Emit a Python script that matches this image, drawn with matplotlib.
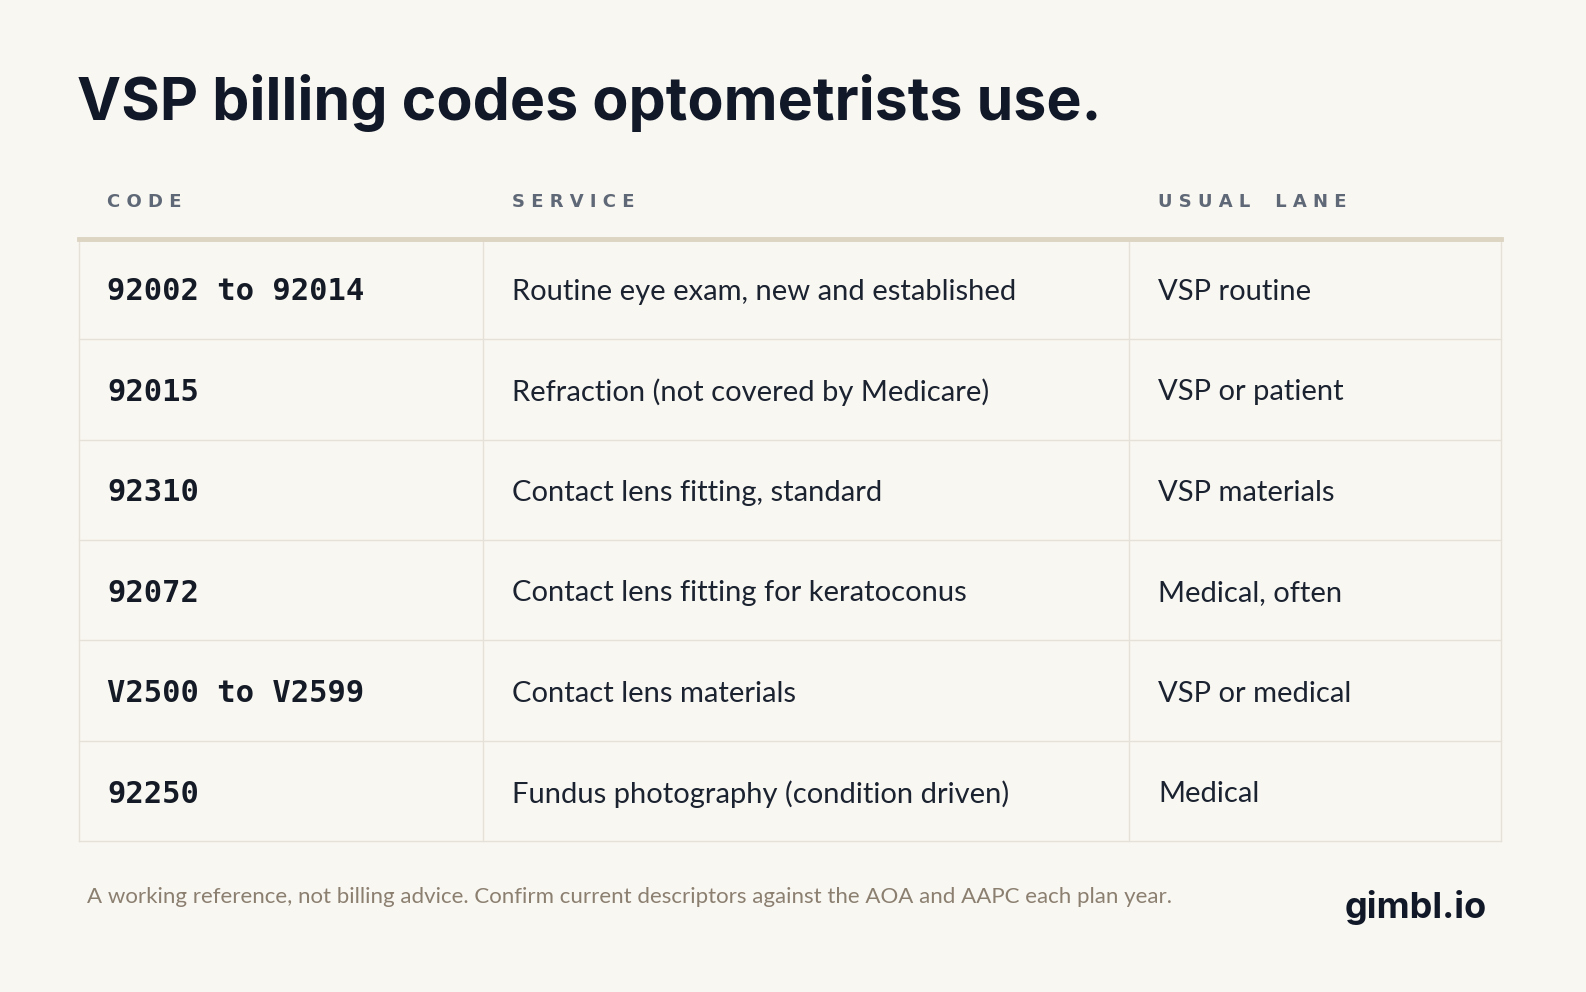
import matplotlib
matplotlib.use("Agg")
import matplotlib.pyplot as plt

title = "VSP billing codes optometrists use."
headers = ["CODE", "SERVICE", "USUAL LANE"]
codes = ["92002 to 92014", "92015", "92310", "92072", "V2500 to V2599", "92250"]
services = ["Routine eye exam, new and established", "Refraction (not covered by Medicare)",
            "Contact lens fitting, standard", "Contact lens fitting for keratoconus",
            "Contact lens materials", "Fundus photography (condition driven)"]
lanes = ["VSP routine", "VSP or patient", "VSP materials", "Medical, often",
         "VSP or medical", "Medical"]
footer = "A working reference, not billing advice. Confirm current descriptors against the AOA and AAPC each plan year."
brand = "gimbl.io"

W, H = 1586, 992
s = 1586 / 1568
bg = "#f9f7f2"
fig = plt.figure(figsize=(W/100, H/100), dpi=100, facecolor=bg)
ax = fig.add_axes([0, 0, 1, 1])
ax.set_xlim(0, W / s); ax.set_ylim(H / s, 0); ax.axis("off")

ax.text(76, 102, title, fontsize=42.5, fontweight="bold", family="Inter",
        color="#111827", va="center", ha="left")

colx = [78, 478, 1116, 1484]
top, rowh = 236, 99.3
hx = [106, 506, 1145]
for x, h in zip(hx, headers):
    ax.text(x, 200, " ".join(h).replace("   ", "    "), fontsize=13, fontweight="bold",
            family=["DejaVu Sans"], color="#5f6876", va="center", ha="left")

n = len(codes)
bottom = top + n * rowh
lc = "#e6e1d8"
for i in range(n + 1):
    y = top + i * rowh
    ax.plot([colx[0], colx[-1]], [y, y], color=lc, lw=1)
for x in colx:
    ax.plot([x, x], [top, bottom], color=lc, lw=1)
ax.plot([colx[0], colx[-1]], [top, top], color="#ddd4c2", lw=3.5)

for i in range(n):
    yc = top + (i + 0.5) * rowh + 3
    ax.text(106, yc, codes[i], fontsize=22, fontweight="bold", family="DejaVu Sans Mono",
            color="#151b26", va="center", ha="left")
    ax.text(506, yc, services[i], fontsize=21, family="Lato", color="#1b2230",
            va="center", ha="left")
    ax.text(1145, yc, lanes[i], fontsize=21, family="Lato", color="#1b2230",
            va="center", ha="left")

ax.text(86, 887, footer, fontsize=16, family="Lato", color="#8b7f70", va="center", ha="left")
ax.text(1470, 897, brand, fontsize=26, fontweight="bold", family="Inter",
        color="#111827", va="center", ha="right")

fig.savefig("out.png", dpi=100, facecolor=bg)
